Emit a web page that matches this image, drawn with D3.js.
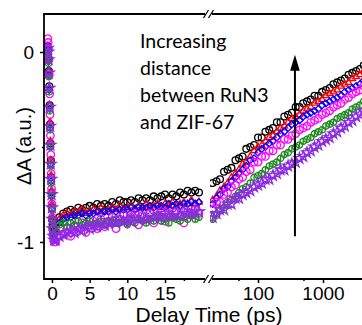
<!DOCTYPE html>
<html>
<head>
<meta charset="utf-8">
<script src="https://cdn.jsdelivr.net/npm/d3@7"></script>
<style>
  body { margin: 0; background: #fff; }
  text { font-family: "Liberation Sans", Arial, sans-serif; fill: #000; }
</style>
</head>
<body>
<svg width="362" height="325"></svg>
<script>
// delay times (ps)
const tEdge = [-0.55, -0.5, -0.45, -0.4, -0.35, -0.3, -0.25, -0.2, -0.15, -0.1, -0.05, 0, 0.05, 0.1, 0.2, 0.3];
const tLeft = [0.5, 1, 1.5, 2, 2.5, 3, 3.5, 4, 4.5, 5, 5.5, 6, 6.5, 7, 7.5, 8, 8.5, 9, 9.5, 10,
  10.5, 11, 11.5, 12, 12.5, 13, 13.5, 14, 14.5, 15, 15.5, 16, 16.5, 17, 17.5, 18, 18.5, 19, 19.5];
const tRight = [20, 23, 26, 30, 34, 39, 45, 51, 58, 66, 76, 87, 100, 114, 130, 149, 170, 195, 222, 254,
  290, 332, 380, 434, 496, 567, 648, 741, 847, 968, 1107, 1265, 1446, 1653, 1890, 2160, 2470, 2820, 3230, 3690, 4220];

// axis ticks
const xLeftTicks = [0, 5, 10, 15];
const xLeftMinor = [2.5, 7.5, 12.5, 17.5];
const xRightTicks = [100, 1000];
const xRightMinor = [50, 500];
const yTicks = [0, -1];
const yMinor = [-0.5];

// black open circles
const blackEdge = [0.03, 0.01, -0.03, -0.1, -0.18, -0.28, -0.38, -0.48, -0.57, -0.66, -0.74, -0.82, -0.88, -0.92, -0.95, -0.96];
const blackLeft = [-0.9, -0.87, -0.85, -0.84, -0.83, -0.84, -0.82, -0.83, -0.82, -0.81, -0.82, -0.8, -0.81, -0.8, -0.81, -0.79, -0.8, -0.78, -0.79, -0.79,
  -0.78, -0.79, -0.77, -0.78, -0.77, -0.78, -0.76, -0.77, -0.76, -0.75, -0.77, -0.75, -0.76, -0.74, -0.75, -0.73, -0.74, -0.73, -0.74];
const blackRight = [-0.69, -0.68, -0.67, -0.63, -0.62, -0.61, -0.57, -0.56, -0.55, -0.51, -0.5, -0.49, -0.45, -0.45, -0.42, -0.41, -0.4, -0.37, -0.37, -0.34,
  -0.33, -0.32, -0.29, -0.29, -0.27, -0.26, -0.25, -0.23, -0.23, -0.21, -0.2, -0.19, -0.17, -0.16, -0.15, -0.14, -0.12, -0.11, -0.1, -0.09, -0.07];

// red open triangles
const redEdge = [0.02, 0, -0.04, -0.1, -0.19, -0.28, -0.37, -0.47, -0.57, -0.65, -0.73, -0.8, -0.87, -0.92, -0.96, -0.97];
const redLeft = [-0.93, -0.88, -0.86, -0.85, -0.86, -0.84, -0.85, -0.83, -0.85, -0.84, -0.83, -0.84, -0.82, -0.84, -0.83, -0.82, -0.83, -0.81, -0.83, -0.82,
  -0.81, -0.83, -0.81, -0.82, -0.8, -0.82, -0.81, -0.8, -0.82, -0.8, -0.81, -0.79, -0.81, -0.8, -0.79, -0.8, -0.78, -0.8, -0.79];
const redRight = [-0.78, -0.76, -0.73, -0.71, -0.69, -0.66, -0.64, -0.62, -0.59, -0.58, -0.55, -0.52, -0.5, -0.49, -0.47, -0.45, -0.44, -0.42, -0.4, -0.39,
  -0.37, -0.35, -0.34, -0.33, -0.31, -0.3, -0.29, -0.27, -0.26, -0.25, -0.23, -0.22, -0.21, -0.2, -0.18, -0.17, -0.16, -0.14, -0.13, -0.12, -0.1];

// blue open diamonds
const blueEdge = [0.01, -0.01, -0.05, -0.12, -0.2, -0.3, -0.4, -0.5, -0.59, -0.68, -0.76, -0.83, -0.89, -0.94, -0.97, -0.98];
const blueLeft = [-0.95, -0.9, -0.88, -0.87, -0.87, -0.86, -0.86, -0.85, -0.86, -0.85, -0.85, -0.84, -0.85, -0.84, -0.84, -0.83, -0.84, -0.83, -0.83, -0.83,
  -0.82, -0.83, -0.82, -0.82, -0.82, -0.81, -0.82, -0.81, -0.81, -0.82, -0.8, -0.81, -0.8, -0.81, -0.8, -0.8, -0.79, -0.8, -0.79];
const blueRight = [-0.8, -0.77, -0.75, -0.72, -0.71, -0.68, -0.66, -0.64, -0.62, -0.6, -0.57, -0.56, -0.53, -0.51, -0.5, -0.48, -0.47, -0.45, -0.43, -0.42,
  -0.4, -0.38, -0.37, -0.36, -0.34, -0.33, -0.32, -0.31, -0.3, -0.28, -0.27, -0.26, -0.25, -0.24, -0.23, -0.21, -0.2, -0.19, -0.18, -0.17, -0.15];

// magenta open circles
const magentaEdge = [0.07, 0.05, 0.02, -0.04, -0.12, -0.22, -0.33, -0.44, -0.54, -0.64, -0.72, -0.8, -0.87, -0.93, -0.97, -1.0];
const magentaLeft = [-1.0, -0.97, -0.96, -0.93, -0.97, -0.92, -0.94, -0.9, -0.95, -0.91, -0.89, -0.93, -0.88, -0.92, -0.89, -0.87, -0.93, -0.88, -0.86, -0.9,
  -0.87, -0.85, -0.91, -0.86, -0.88, -0.85, -0.9, -0.86, -0.84, -0.89, -0.85, -0.87, -0.84, -0.86, -0.9, -0.84, -0.86, -0.83, -0.85];
const magentaRight = [-0.83, -0.79, -0.79, -0.75, -0.74, -0.71, -0.7, -0.67, -0.66, -0.63, -0.62, -0.58, -0.58, -0.55, -0.55, -0.52, -0.52, -0.49, -0.49, -0.46,
  -0.46, -0.44, -0.43, -0.41, -0.4, -0.39, -0.37, -0.36, -0.35, -0.33, -0.32, -0.31, -0.29, -0.28, -0.27, -0.25, -0.24, -0.22, -0.21, -0.2, -0.18];

// green crossed circles
const greenEdge = [0, -0.02, -0.06, -0.13, -0.21, -0.31, -0.41, -0.5, -0.6, -0.69, -0.76, -0.83, -0.89, -0.93, -0.96, -0.97];
const greenLeft = [-0.95, -0.91, -0.9, -0.92, -0.9, -0.91, -0.89, -0.91, -0.9, -0.89, -0.91, -0.9, -0.89, -0.91, -0.89, -0.9, -0.88, -0.9, -0.89, -0.91,
  -0.88, -0.9, -0.88, -0.89, -0.9, -0.88, -0.89, -0.87, -0.89, -0.88, -0.9, -0.87, -0.88, -0.89, -0.87, -0.88, -0.86, -0.88, -0.87];
const greenRight = [-0.88, -0.86, -0.83, -0.82, -0.79, -0.78, -0.76, -0.74, -0.72, -0.71, -0.69, -0.66, -0.65, -0.64, -0.62, -0.6, -0.59, -0.58, -0.56, -0.54,
  -0.53, -0.51, -0.5, -0.49, -0.47, -0.46, -0.45, -0.43, -0.42, -0.41, -0.39, -0.38, -0.37, -0.35, -0.34, -0.33, -0.32, -0.3, -0.29, -0.28, -0.26];

// purple open stars
const purpleEdge = [0.02, 0, -0.04, -0.11, -0.19, -0.29, -0.39, -0.49, -0.59, -0.67, -0.75, -0.82, -0.88, -0.93, -0.97, -0.99];
const purpleLeft = [-0.99, -0.97, -0.96, -0.95, -0.94, -0.95, -0.93, -0.94, -0.92, -0.93, -0.91, -0.92, -0.9, -0.91, -0.9, -0.89, -0.9, -0.88, -0.89, -0.88,
  -0.89, -0.87, -0.88, -0.87, -0.88, -0.86, -0.87, -0.86, -0.87, -0.85, -0.86, -0.86, -0.85, -0.86, -0.84, -0.85, -0.85, -0.84, -0.84];
const purpleRight = [-0.87, -0.85, -0.83, -0.83, -0.8, -0.8, -0.77, -0.77, -0.75, -0.74, -0.73, -0.71, -0.7, -0.69, -0.67, -0.67, -0.65, -0.64, -0.62, -0.62,
  -0.6, -0.59, -0.58, -0.56, -0.55, -0.53, -0.52, -0.5, -0.49, -0.47, -0.46, -0.45, -0.43, -0.42, -0.4, -0.39, -0.37, -0.36, -0.34, -0.33, -0.31];

// arrow: drawn at 370 ps, from -0.97 up to -0.015
const arrowT = 370;
const arrowFrom = -0.97;
const arrowTo = -0.015;

const noteLines = ["Increasing", "distance", "between RuN3", "and ZIF-67"];

const series = [
  { color: "#000000", shape: "circle", size: 36, edge: blackEdge, left: blackLeft, right: blackRight },
  { color: "#ff0000", shape: "triangle", size: 32, edge: redEdge, left: redLeft, right: redRight },
  { color: "#0000ff", shape: "diamond", size: 30, edge: blueEdge, left: blueLeft, right: blueRight },
  { color: "#ff00ff", shape: "circle", size: 44, edge: magentaEdge, left: magentaLeft, right: magentaRight },
  { color: "#1e8a1e", shape: "crossed", size: 32, edge: greenEdge, left: greenLeft, right: greenRight },
  { color: "#8b2be2", shape: "star", size: 36, edge: purpleEdge, left: purpleLeft, right: purpleRight }
];

const $svg = d3.select("svg");
const mLeft = 44, mTop = 14, mBottom = 279, brk = 208, mRight = 362;

const xL = d3.scaleLinear().domain([-1.05, 20.7]).range([mLeft, brk]);
const xR = d3.scaleLog().domain([17, 15300]).range([brk, 400]);
const y = d3.scaleLinear().domain([-1.195, 0.2]).range([mBottom, mTop]);

const symType = {
  circle: d3.symbolCircle,
  triangle: d3.symbolTriangle2 || d3.symbolTriangle,
  diamond: d3.symbolDiamond2 || d3.symbolDiamond,
  crossed: d3.symbolCircle,
  star: d3.symbolStar
};

const defs = $svg.append("defs");
defs.append("clipPath").attr("id", "clipL")
  .append("rect").attr("x", mLeft).attr("y", mTop).attr("width", brk - mLeft).attr("height", mBottom - mTop);
defs.append("clipPath").attr("id", "clipR")
  .append("rect").attr("x", brk + 2).attr("y", mTop).attr("width", mRight - brk).attr("height", mBottom - mTop);

function drawMarkers(g, pts, s) {
  const sym = d3.symbol().type(symType[s.shape]).size(s.size);
  const m = g.selectAll(null)
    .data(pts)
    .enter()
    .append("g")
    .attr("transform", d => `translate(${d[0]},${d[1]})`);
  m.append("path")
    .attr("d", sym)
    .attr("fill", "none")
    .attr("stroke", s.color)
    .attr("stroke-width", 1.3);
  if (s.shape === "crossed") {
    m.append("line")
      .attr("y1", -3).attr("y2", 3)
      .attr("stroke", s.color).attr("stroke-width", 1.3);
  }
}

const gL = $svg.append("g").attr("clip-path", "url(#clipL)");
const gR = $svg.append("g").attr("clip-path", "url(#clipR)");

series.forEach(s => {
  const ptsL = tEdge.map((t, i) => [xL(t), y(s.edge[i])])
    .concat(tLeft.map((t, i) => [xL(t), y(s.left[i])]));
  const ptsR = tRight.map((t, i) => [xR(t), y(s.right[i])]);
  drawMarkers(gL.append("g"), ptsL, s);
  drawMarkers(gR.append("g"), ptsR, s);
});

// frame
const frame = $svg.append("g").attr("stroke", "#000").attr("stroke-width", 1.8).attr("fill", "none");
frame.append("line").attr("x1", mLeft).attr("x2", mLeft).attr("y1", mTop - 0.9).attr("y2", mBottom + 0.9);
[mTop, mBottom].forEach(yy => {
  frame.append("line").attr("x1", mLeft).attr("x2", brk - 3).attr("y1", yy).attr("y2", yy);
  frame.append("line").attr("x1", brk + 4).attr("x2", mRight).attr("y1", yy).attr("y2", yy);
  [brk - 2, brk + 3].forEach(cx => {
    frame.append("line")
      .attr("stroke-width", 1.3)
      .attr("x1", cx - 2.5).attr("y1", yy + 4)
      .attr("x2", cx + 2.5).attr("y2", yy - 4);
  });
});

// axes
function styleAxis(g) {
  g.select(".domain").remove();
  g.selectAll(".tick line").attr("stroke", "#000").attr("stroke-width", 1.5);
  g.selectAll(".tick text").attr("font-size", 19).attr("font-family", "Liberation Sans, Arial, sans-serif");
}

$svg.append("g").attr("transform", `translate(0,${mBottom})`)
  .call(d3.axisBottom(xL).tickValues(xLeftTicks).tickSize(4).tickPadding(4).tickFormat(d3.format("d")))
  .call(styleAxis);
$svg.append("g").attr("transform", `translate(0,${mBottom})`)
  .call(d3.axisBottom(xL).tickValues(xLeftMinor).tickSize(2).tickFormat(""))
  .call(styleAxis);
$svg.append("g").attr("transform", `translate(0,${mBottom})`)
  .call(d3.axisBottom(xR).tickValues(xRightTicks).tickSize(4).tickPadding(4).tickFormat(d3.format("d")))
  .call(styleAxis);
$svg.append("g").attr("transform", `translate(0,${mBottom})`)
  .call(d3.axisBottom(xR).tickValues(xRightMinor).tickSize(2).tickFormat(""))
  .call(styleAxis);

$svg.append("g").attr("transform", `translate(${mLeft},0)`)
  .call(d3.axisLeft(y).tickValues(yTicks).tickSize(4).tickPadding(6).tickFormat(d => d === 0 ? "0" : d3.format("d")(d).replace("−", "-")))
  .call(styleAxis);
$svg.append("g").attr("transform", `translate(${mLeft},0)`)
  .call(d3.axisLeft(y).tickValues(yMinor).tickSize(2).tickFormat(""))
  .call(styleAxis);

// axis titles
$svg.append("text")
  .attr("x", 209).attr("y", 322)
  .attr("text-anchor", "middle")
  .attr("font-size", 21)
  .text("Delay Time (ps)");
$svg.append("text")
  .attr("transform", `translate(31,${(y(0) + y(-1)) / 2 - 1}) rotate(-90)`)
  .attr("text-anchor", "middle")
  .attr("font-size", 20)
  .text("ΔA (a.u.)");

// annotation
const note = $svg.append("text")
  .attr("x", 140).attr("y", 48)
  .attr("font-size", 19.5)
  .style("font-family", "Lato, 'Open Sans', sans-serif");
noteLines.forEach((l, i) => {
  note.append("tspan").attr("x", 140).attr("dy", i === 0 ? 0 : 27).text(l);
});

// arrow
const ax = xR(arrowT);
$svg.append("line")
  .attr("x1", ax).attr("x2", ax)
  .attr("y1", y(arrowFrom)).attr("y2", y(arrowTo) + 12)
  .attr("stroke", "#000").attr("stroke-width", 2);
$svg.append("path")
  .attr("d", `M${ax},${y(arrowTo)} L${ax - 4.8},${y(arrowTo) + 16} L${ax + 4.8},${y(arrowTo) + 16} Z`)
  .attr("fill", "#000");
</script>
</body>
</html>
